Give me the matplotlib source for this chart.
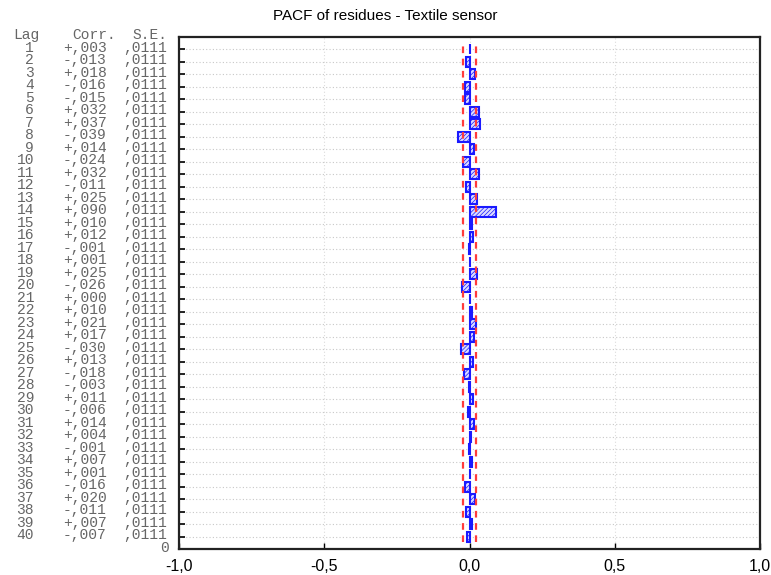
import matplotlib
matplotlib.use("Agg")
import matplotlib.pyplot as plt
from matplotlib.transforms import blended_transform_factory

# PACF table
lags = list(range(1, 41))
corr = [0.003, -0.013, 0.018, -0.016, -0.015, 0.032, 0.037, -0.039, 0.014, -0.024,
        0.032, -0.011, 0.025, 0.090, 0.010, 0.012, -0.001, 0.001, 0.025, -0.026,
        0.000, 0.010, 0.021, 0.017, -0.030, 0.013, -0.018, -0.003, 0.011, -0.006,
        0.014, 0.004, -0.001, 0.007, 0.001, -0.016, 0.020, -0.011, 0.007, -0.007]
se = [0.0111] * 40
xticks = [-1.0, -0.5, 0.0, 0.5, 1.0]
xlabels = ["-1,0", "-0,5", "0,0", "0,5", "1,0"]

plt.rcParams["hatch.linewidth"] = 0.5

W, H = 771, 575
fig = plt.figure(figsize=(W / 100, H / 100), dpi=100)
ax = fig.add_axes([179 / W, 1 - 549 / H, (760 - 179) / W, (549 - 37) / H])

ypos = [41 - k for k in lags]

ax.barh(ypos, corr, height=0.8, facecolor="#dcdcff", edgecolor="#1a1aff",
        hatch="////////", linewidth=1.5, zorder=3)

# 2 * S.E. limits
lim = 2 * se[0]
ax.vlines([-lim, lim], 0.6, 40.4, colors="#ff3b3b", linestyles=(0, (3, 2.5)),
          linewidth=1.6, zorder=4)

ax.set_xlim(-1.0, 1.0)
ax.set_ylim(0, 41)
ax.set_xticks(xticks)
ax.set_xticklabels(xlabels, fontfamily="Liberation Sans", fontsize=11.5)
ax.set_yticks(ypos)
ax.set_yticklabels([])
ax.tick_params(axis="y", direction="in", length=4, width=1.2, colors="black")
ax.tick_params(axis="x", direction="in", length=4, width=1.0, pad=7)

ax.grid(True, axis="y", linestyle=(0, (1, 2)), color="#c8c8c8", linewidth=0.8, zorder=0)
ax.grid(True, axis="x", linestyle=(0, (1, 2)), color="#dcdcdc", linewidth=0.8, zorder=0)
for s in ax.spines.values():
    s.set_linewidth(1.6)
    s.set_color("#222222")

ax.set_title("PACF of residues - Textile sensor", fontfamily="Liberation Sans",
             fontsize=11, x=(385 - 179) / (760 - 179), pad=12)

# table text on the left
tr = blended_transform_factory(fig.transFigure, ax.transData)
tcol = "#666666"
mono = dict(fontfamily="Liberation Mono", fontsize=10.5, color=tcol, va="center",
            transform=tr, clip_on=False)
hy = 41.15
ax.text(13 / W, hy, "Lag", ha="left", **mono)
ax.text(72 / W, hy, "Corr.", ha="left", **mono)
ax.text(132 / W, hy, "S.E.", ha="left", **mono)
for k, c, s, y in zip(lags, corr, se, ypos):
    sign = "-" if c < 0 else "+"
    cs = sign + ("%.3f" % abs(c)).replace("0.", ",")
    ss = ("%.4f" % s).replace("0.", ",")
    ax.text(34 / W, y + 0.12, str(k), ha="right", **mono)
    ax.text(63 / W, y + 0.12, cs, ha="left", **mono)
    ax.text(123 / W, y + 0.12, ss, ha="left", **mono)
ax.text(169 / W, 0.05, "0", ha="right", **mono)

fig.savefig("out.png", dpi=100)
